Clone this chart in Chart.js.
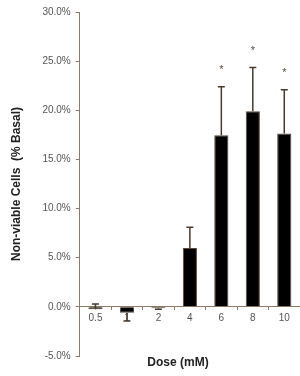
<!DOCTYPE html>
<html>
<head>
<meta charset="utf-8">
<script src="https://cdn.jsdelivr.net/npm/chart.js@4/dist/chart.umd.min.js"></script>
<style>
  html, body { margin: 0; padding: 0; background: #fff; }
  #wrap { width: 300px; height: 376px; }
</style>
</head>
<body>
<div id="wrap"><canvas id="dose"></canvas></div>
<script>
// dose groups (mM)
const doses = ["0.5", "1", "2", "4", "6", "8", "10"];
// mean non-viable cells, % of basal
const values = [-0.25, -0.6, -0.15, 6.0, 17.45, 19.9, 17.65];
// error bar length (signed: drawn in that direction from the bar end)
const errors = [0.55, -0.85, -0.1, 2.1, 4.95, 4.45, 4.45];
// significance marks
const marks = ["", "", "", "", "*", "*", "*"];
const yTicks = [-5, 0, 5, 10, 15, 20, 25, 30];

const axisColor = "#8c7a68";
const inkColor = "#4a3a2c";

const errorBars = {
    id: "errorBars",
    afterDatasetsDraw(chart) {
        const ctx = chart.ctx;
        const meta = chart.getDatasetMeta(0);
        const yScale = chart.scales.y;
        ctx.save();
        ctx.strokeStyle = inkColor;
        ctx.lineWidth = 1.5;
        meta.data.forEach((bar, i) => {
            const x = bar.x;
            const yFrom = yScale.getPixelForValue(values[i]);
            const yTo = yScale.getPixelForValue(values[i] + errors[i]);
            ctx.beginPath();
            ctx.moveTo(x, yFrom);
            ctx.lineTo(x, yTo);
            ctx.moveTo(x - 3.5, yTo);
            ctx.lineTo(x + 3.5, yTo);
            ctx.stroke();
            if (marks[i]) {
                ctx.fillStyle = "#5a4a3c";
                ctx.font = "11px 'Liberation Sans', Arial, sans-serif";
                ctx.textAlign = "center";
                ctx.textBaseline = "middle";
                ctx.fillText(marks[i], x, yTo - 17);
            }
        });
        ctx.restore();
    }
};

const xTitle = {
    id: "xTitle",
    afterDraw(chart) {
        const ctx = chart.ctx;
        ctx.save();
        ctx.fillStyle = "#222";
        ctx.font = "bold 12px 'Liberation Sans', Arial, sans-serif";
        ctx.textAlign = "center";
        ctx.textBaseline = "middle";
        ctx.fillText("Dose (mM)", 178, 363);
        ctx.restore();
    }
};

new Chart(document.getElementById("dose"), {
    type: "bar",
    data: {
        labels: doses,
        datasets: [{
            data: values,
            backgroundColor: "#000",
            borderColor: "#5a4634",
            borderWidth: 1,
            barPercentage: 0.45,
            categoryPercentage: 1.0
        }]
    },
    options: {
        responsive: true,
        maintainAspectRatio: false,
        animation: false,
        layout: { padding: { left: 9, right: 0, top: 12, bottom: 20 } },
        plugins: {
            legend: { display: false },
            tooltip: { enabled: false }
        },
        scales: {
            x: {
                position: { y: 0 },
                grid: {
                    offset: true,
                    drawOnChartArea: false,
                    color: axisColor,
                    tickLength: 3
                },
                border: { color: axisColor, width: 1 },
                ticks: {
                    color: "#555",
                    padding: 2,
                    font: { family: "'Liberation Sans', Arial, sans-serif", size: 10 }
                }
            },
            y: {
                min: -5,
                max: 30,
                afterBuildTicks(axis) {
                    axis.ticks = yTicks.map(v => ({ value: v }));
                },
                grid: {
                    drawOnChartArea: false,
                    color: axisColor,
                    tickLength: 4
                },
                border: { color: axisColor, width: 1 },
                ticks: {
                    color: "#555",
                    padding: 5,
                    font: { family: "'Liberation Sans', Arial, sans-serif", size: 10 },
                    callback: v => v.toFixed(1) + "%"
                },
                title: {
                    display: true,
                    text: "Non-viable Cells  (% Basal)",
                    color: "#222",
                    padding: { top: 0, bottom: 14 },
                    font: { family: "'Liberation Sans', Arial, sans-serif", size: 12, weight: "bold" }
                }
            }
        }
    },
    plugins: [errorBars, xTitle]
});
</script>
</body>
</html>
